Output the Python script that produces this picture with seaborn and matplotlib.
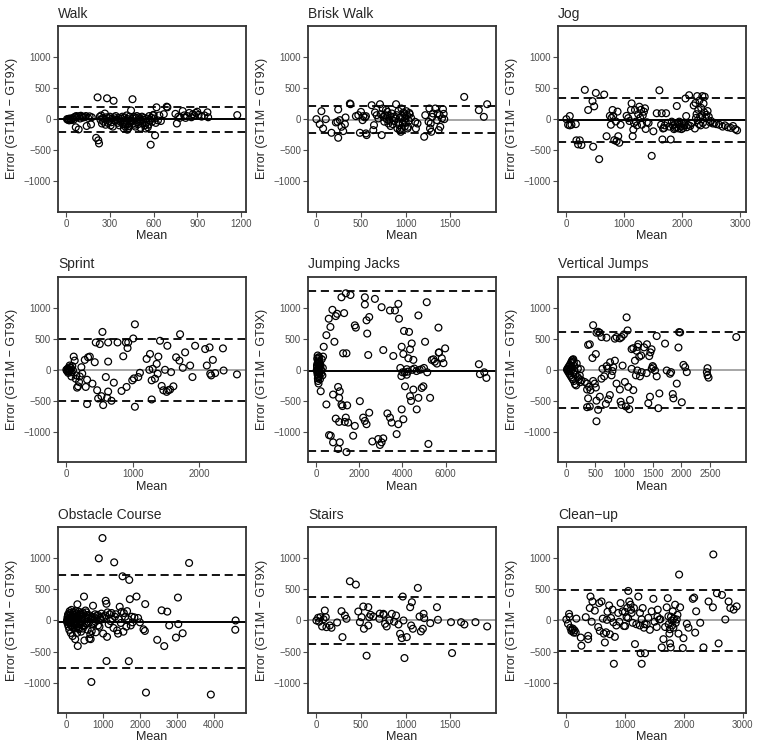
import matplotlib
matplotlib.use("Agg")
import matplotlib.pyplot as plt
import seaborn as sns
import pandas as pd

# Bland-Altman style panels: (mean of the two monitors, GT1M - GT9X)
titles = ["Walk", "Brisk Walk", "Jog", "Sprint", "Jumping Jacks", "Vertical Jumps",
          "Obstacle Course", "Stairs", "Clean\u2212up"]

walk_pts = [
    (5, 0), (10, -10), (15, 5), (20, -20), (25, 10), (30, -5), (35, -15), (40, 0), (45, 20), (50, -10),
    (60, 40), (65, -130), (70, 50), (75, 30), (85, -165), (90, 45), (95, 10), (100, 55), (110, 40), (115, 25),
    (125, 35), (135, 50), (140, -110), (150, 20), (160, 45), (170, -85), (175, 30),
    (205, -300), (215, 350), (220, -340), (225, -390), (230, 40), (235, -10), (240, 60), (245, -70), (250, 20),
    (255, -40), (260, 10), (265, 90), (270, -90), (275, 30), (280, 335), (285, -60), (290, 20), (295, -30),
    (300, 40), (305, -100), (310, -50), (315, 10), (320, -120), (325, 295), (330, 30), (335, -20), (340, 50),
    (350, -10), (360, 20), (370, -40), (380, 10), (390, -80), (395, -150), (400, 30), (405, -120), (410, -30),
    (415, 60), (420, -170), (425, 0), (430, -110), (435, 40), (440, -60), (445, 140), (450, -20), (455, 320),
    (460, 10), (470, -90), (480, 20), (490, -50), (500, 30), (510, -140), (520, 40), (530, -10), (540, -100),
    (550, -60), (560, -130), (570, 50), (580, -410), (585, 20), (590, -40), (600, 70), (610, -260), (620, 190),
    (630, -20), (640, 60), (650, -30), (670, 80), (690, 200), (695, 190),
    (355, -60), (365, -100), (375, -20), (385, 40), (398, -60), (418, -80), (428, -140), (438, -20), (458, -70),
    (465, 40), (475, -120), (485, 50), (495, -80), (505, 0), (515, -30), (525, -70), (535, 20), (545, -150),
    (555, 10), (565, -90), (575, -20), (595, 60), (605, 10), (615, -60),
    (750, 85), (760, -70), (770, 40), (780, 20), (800, 130), (810, 60), (820, 20), (830, 50), (845, 100),
    (860, 30), (870, 80), (880, 60), (890, 100), (900, 120), (910, 70), (930, 40), (950, 60), (970, 110),
    (975, 30), (1175, 65),
]

brisk_pts = [
    (0, 0), (37, -80), (56, 128), (75, -150), (105, 0), (169, -219), (218, -53), (236, -43), (244, -299),
    (244, 155), (262, -16), (281, -123), (300, -192), (319, -80), (326, 27), (375, 251), (382, 240),
    (442, 48), (469, 64), (487, -219), (499, 117), (517, -16), (525, 48), (544, 27), (555, -229), (562, -256),
    (555, 48), (619, 224), (637, -176), (645, -96), (656, 107), (675, 64), (694, 11), (712, 240), (720, 80),
    (731, -256), (742, 171), (750, 37), (769, 64), (787, 0), (795, 117), (806, -70), (817, -27), (825, 48),
    (844, 91), (855, -80), (862, 37), (880, 11), (892, 240), (900, 64), (907, -150), (919, 133), (927, -96),
    (934, -176), (945, -203), (952, 171), (960, 48), (967, -70), (975, 107), (982, -27), (990, -117),
    (997, 11), (1007, 128), (1015, 64), (1026, -123), (1035, -27), (1045, 80), (1060, 20),
    (760, -40), (780, 150), (800, 60), (830, -110), (870, -30), (915, -60), (940, 30), (955, -140),
    (985, 80), (1000, -60), (1020, -150), (1040, 100),
    (1106, -43), (1114, -150), (1132, -70), (1207, -283), (1219, 64), (1256, -43), (1265, 171), (1272, -150),
    (1280, -70), (1287, -203), (1297, 37), (1305, 91), (1331, 171), (1350, -16), (1357, 91), (1369, -176),
    (1380, 64), (1387, -123), (1406, 11), (1417, 160), (1425, 85), (1432, 0),
    (1655, 357), (1819, 144), (1875, 37), (1912, 240),
]

jog_pts = [
    (0, 0), (29, -90), (58, 50), (58, -100), (87, -90), (162, -80), (173, -340), (202, -405), (231, -340),
    (260, -415), (318, 470), (376, 147), (451, 289), (462, -442), (480, 205), (509, 421), (566, -642),
    (653, 395), (694, -274), (751, 53), (769, -90), (780, 20), (798, 147), (809, 53), (827, -337), (855, -37),
    (867, -353), (884, 121), (896, -274), (913, -379), (936, -90),
    (1040, 53), (1069, 16), (1090, -30), (1116, 147), (1127, 253), (1145, -274), (1156, -168), (1168, -63),
    (1185, 147), (1200, -40), (1220, -100), (1240, 80), (1260, 200), (1275, 20), (1290, 150), (1305, -90),
    (1320, 60), (1340, 120), (1358, 174), (1370, -158), (1390, -50), (1420, -60), (1474, -589), (1503, -195),
    (1561, 95), (1607, 463), (1636, -90), (1647, 95), (1659, -326), (1670, -150), (1688, -142), (1700, -100),
    (1723, 95), (1750, -60), (1780, -120), (1803, -326), (1820, -40), (1840, -100), (1860, -160),
    (1880, -80), (1900, -130), (1908, 211), (1920, -60), (1940, -150), (1960, -90), (1980, -120),
    (2000, -70), (2020, -140), (2040, -100), (2058, 332), (2070, 50), (2080, -130), (2100, -90),
    (2121, 384), (2140, -110), (2160, -60), (1950, -40), (1990, -160), (2030, -60), (1870, -140),
    (2200, 220), (2220, -150), (2230, 260), (2240, 20), (2250, 80), (2260, 370), (2270, -20), (2280, 150),
    (2290, -80), (2300, 300), (2310, 40), (2320, -100), (2330, 180), (2340, 60), (2350, 370), (2360, -60),
    (2370, 250), (2380, 110), (2390, 360), (2400, 20), (2410, -90), (2420, 70), (2440, 130), (2460, 40),
    (2480, -50), (2500, -30), (2530, -70), (2560, -60), (2590, -80), (2640, -90), (2700, -120),
    (2740, -100), (2790, -130), (2840, -140), (2880, -110), (2920, -160), (2950, -180),
]

sprint_pts = [
    (0, 0), (10, -20), (20, 20), (30, -30), (40, 10), (50, 40), (60, -10), (70, 30), (80, -40), (90, 60),
    (100, -10), (30, -50), (20, 10), (40, -20), (50, 69), (76, -106), (111, 212), (126, 148), (151, -90),
    (141, -143), (162, -286), (177, -265), (192, -196), (202, -106), (227, 42), (240, -60),
    (278, 159), (293, -275), (313, -159), (328, 201), (313, -550), (354, 212), (394, -222), (429, 122),
    (444, 439), (465, -328), (480, -460), (505, 413), (530, -423), (545, 608), (556, -566), (596, -116),
    (616, -450), (631, -349), (631, 132), (631, 439), (682, -497), (717, -206), (773, 439), (833, -339),
    (859, 217), (899, 439), (909, -275), (924, 349), (934, 439), (995, -169), (1010, 503), (1020, -138),
    (1035, -593), (1035, 730), (1086, -116), (1111, -48),
    (1212, 175), (1253, 0), (1263, 254), (1288, -169), (1288, -476), (1303, 16), (1338, -143), (1364, 95),
    (1379, -63), (1389, 212), (1414, 466), (1439, -259), (1465, -328), (1490, 0), (1515, -354),
    (1540, -328), (1525, 386), (1566, -317), (1581, -37), (1616, -265), (1657, 201), (1707, 148),
    (1717, 571), (1758, 32), (1793, 280), (1869, 69), (1904, -116), (1944, 386), (2096, 333), (2121, 69),
    (2162, 360), (2172, -63), (2187, -90), (2212, 159), (2247, -53), (2364, 344), (2374, -11), (2576, -74),
]

jacks_pts = [
    (20, 0), (30, 50), (40, -40), (50, 100), (60, -80), (70, 150), (80, -20), (90, 200), (100, 30),
    (110, -120), (40, 180), (60, 230), (80, -180), (100, -220), (120, 60), (130, -60), (150, 120),
    (160, -30), (180, 90), (200, 10), (220, -60), (250, 170), (280, -90), (300, 30), (70, -140), (90, 120),
    (50, -10), (30, 70), (120, -100), (140, 200), (170, -150), (190, 60), (202, -344), (230, -10),
    (311, 212), (342, 370),
    (466, 556), (575, 820), (653, 688), (746, 963), (839, 450), (901, 862), (964, 899), (1166, 1164),
    (1243, 265), (1290, 910), (1399, 265), (1368, 1228), (1585, 1201), (1787, 714), (1834, 677),
    (2253, 1164), (2253, 1048), (2331, 794), (2362, 582), (2409, 238), (2455, 847), (2719, 1138),
    (3030, 1005), (3108, 317), (3419, 952), (3652, 952), (3574, 222), (3807, 1058), (3838, 820),
    (3963, 370), (4041, 254), (4072, 624), (4274, 185), (4305, 608), (4352, 328), (4429, 423),
    (4506, 159), (4739, 873), (5050, 450), (5128, 1085), (5439, 169), (5672, 677), (5827, 185),
    (5905, 106), (5983, 344), (5361, 159), (5687, 275), (5700, 280),
    (466, -556), (590, -1048), (668, -1058), (777, -397), (901, -783), (1010, -275), (1057, -450),
    (1057, -836), (1088, -344), (1166, -556), (1212, -582), (1321, -836), (1368, -767), (1430, -571),
    (1476, -847), (777, -1164), (1088, -1164), (1010, -1270), (1399, -1320), (1710, -1058), (1787, -900),
    (2020, -503), (2175, -767), (2253, -820), (2331, -873), (2455, -688), (2875, -1111), (2953, -1206),
    (3030, -1164), (3108, -1100), (3419, -767), (3497, -847), (3730, -1032), (3807, -873), (3963, -635),
    (4041, -794), (4118, -265), (4196, -79), (4352, -423), (4506, -317), (4662, -635), (4739, -450),
    (4895, -291), (4972, -265), (5205, -1190), (5283, -450), (2600, -1150), (3300, -700), (4400, -500),
    (3900, 30), (3950, -100), (4000, -40), (4100, -40), (4200, 10), (4250, -30), (4450, 0),
    (4550, 20), (4650, -20), (4800, 0), (4900, 10), (5000, 30), (5150, -40), (5500, 130), (5600, 100),
    (7550, 90), (7600, -70), (7800, -40), (7900, -130),
]

vjump_pts = [
    (10, 0), (20, 20), (30, -30), (40, 50), (50, -60), (60, 80), (70, -90), (80, 110), (90, -120),
    (100, 150), (110, -150), (120, 170), (130, -180), (60, 10), (80, -20), (100, 40), (120, -50),
    (140, 60), (160, -80), (180, 100), (200, -120), (220, -150), (240, -200), (90, 130), (110, 160),
    (70, 30), (50, -20), (150, -230), (170, -250), (130, 120), (200, 20), (250, 10), (30, 10), (140, -10),
    (233, -89), (262, -168), (320, -195), (360, -221), (395, -274), (419, -326), (360, -316), (378, -458),
    (407, -589), (360, -600), (465, -179), (494, -221), (512, -284), (523, -495), (552, -642), (523, -826),
    (581, -432), (610, -142), (628, 16), (657, -105), (686, -547), (727, -474), (756, -405), (785, -89),
    (814, 42), (843, 147), (872, -221), (930, -316), (942, -511), (959, -563), (977, 68), (1017, -195),
    (1035, -589), (1076, -274), (1093, -632), (1105, -484), (1134, 16), (1163, -326), (1192, 147),
    (1209, -89), (1233, -11), (1279, -105), (1308, -37), (1395, -53), (1424, -537), (1453, -432),
    (1483, 16), (1541, -11), (1570, -105), (1599, -616), (1616, -379), (1715, 421), (1744, -11),
    (1802, -63), (1820, -37), (1849, -389), (1860, -458), (1919, -221), (1948, 358), (1959, 605),
    (1977, 600), (2006, -521), (2035, 79), (2064, 42), (2093, -37),
    (465, 716), (523, 595), (378, 400), (407, 410), (453, 189), (512, 253), (552, 611), (581, 595),
    (610, 526), (698, 516), (843, 500), (872, 526), (930, 505), (959, 526), (1047, 842), (1000, 568),
    (1064, 632), (1134, 332), (1163, 347), (1221, 305), (1238, 368), (1250, 411), (1267, 211), (1570, 542),
    (700, 60), (720, 20), (760, 120), (800, -20), (1300, 230), (1350, 360), (1400, 410), (1440, 220),
    (1460, 280), (1480, 330), (1500, 60), (1510, 40), (2442, -37), (2453, -89), (2471, -126),
    (2453, 26), (2953, 526),
]

obstacle_pts = [
    (15, -20), (20, 0), (30, 50), (35, 20), (40, -60), (45, 80), (50, 100), (60, -100), (65, -30), (70, 30),
    (80, -150), (85, 40), (90, 150), (100, -30), (105, 120), (110, 80), (120, -200), (125, -80), (130, 20),
    (140, 170), (145, -10), (150, -90), (160, 60), (165, 30), (170, -250), (180, 120), (185, -120),
    (190, -40), (200, 10), (205, 60), (210, 90), (220, -130), (225, 130), (230, 50), (240, -300),
    (245, -70), (250, 150), (260, -60), (265, 40), (270, -10), (280, 100), (285, -110), (290, -200),
    (300, 260), (305, 70), (310, -410), (320, 40), (325, 10), (330, -120), (340, 140), (345, -140),
    (350, -60), (360, 70), (365, 90), (370, -30), (380, 110), (385, -60), (400, -180), (405, 30),
    (420, 60), (425, -10), (440, 130), (445, -130), (460, -90), (465, 100), (480, 384), (490, -321),
    (500, 20), (505, -80), (520, 160), (525, 60), (540, -50), (545, 130), (560, 90), (565, -20),
    (580, -150), (585, 50), (600, 30), (605, -40), (626, -289), (640, 80), (650, -220), (660, -300),
    (680, -987), (690, -170), (700, 60), (710, 20), (725, 237), (730, -60), (750, -40), (760, 50),
    (780, 100), (790, -20), (800, -190), (820, 20), (830, 70), (850, 90), (860, -80), (882, 997),
    (900, -100), (920, 40), (940, 10), (950, 110), (970, 60), (982, 1323), (1000, -210), (1020, 50),
    (1050, 80), (1070, 316), (1090, 268), (1091, -651), (1106, -263), (1120, 130), (1150, -60),
    (1180, 100), (1200, -10), (1230, 120), (1250, 30), (1280, -120), (1300, 933), (1320, 60),
    (1350, 100), (1380, -160), (1406, -211), (1420, 20), (1450, 220), (1480, -40), (1500, 140),
    (1527, 709), (1550, -180), (1562, 120), (1600, 60), (1630, -100), (1650, 150), (1680, 20),
    (1698, -653), (1709, 651), (1725, 342), (1750, -80), (1780, 60), (1800, -30), (1850, 50),
    (1907, 384), (1950, 40), (2000, -30), (2097, -142), (2134, -168), (2143, 263), (2164, -1157),
    (2470, -311), (2589, 163), (2660, -411), (2743, 142), (2796, -79), (2979, -274), (3033, 368),
    (3042, -58), (3161, -205), (3336, 923), (3927, -1189), (4591, -149), (4600, 0),
]

stairs_pts = [
    (0, 0), (19, 43), (30, -20), (45, 53), (64, -96), (80, 20), (94, 160), (105, 53), (112, -107),
    (150, -80), (169, -117), (232, -32), (281, 149), (292, -267), (319, 80), (337, 27), (375, 629),
    (442, 576), (469, 144), (487, -27), (506, 53), (525, 224), (532, -133), (562, -565), (581, 213),
    (581, -80), (592, 53), (607, 91), (637, 64), (705, 27), (710, 110), (750, 107), (755, 90), (769, -53),
    (787, -96), (817, 0), (844, 107), (870, -20), (892, 80), (919, -64), (937, -213), (956, -283),
    (967, 384), (975, 0), (986, -603), (1012, -267), (1050, 213), (1069, 293), (1061, -80), (1080, -133),
    (1136, 523), (1155, 64), (1170, -176), (1192, -133), (1200, 107), (1207, 37), (1275, -43), (1350, 213),
    (1361, 11), (1507, -27), (1519, -523), (1620, -27), (1657, -64), (1781, -27), (1912, -96),
]

cleanup_pts = [
    (0, 16), (28, -53), (46, 105), (55, 60), (68, -116), (85, -168), (100, -150), (110, -130), (125, -195),
    (140, -160), (159, -195), (170, 30), (245, -274), (256, -405), (330, 53), (370, -247), (370, -300),
    (398, 200), (410, 384), (430, -20), (444, 305), (484, 158), (541, -105), (558, 279), (569, -168),
    (598, 305), (620, 30), (637, -211), (655, -353), (675, -190), (690, 10), (700, 140), (728, 242),
    (740, -221), (760, 40), (785, 174), (808, -695), (825, -263), (850, -80), (882, 121), (900, -20),
    (922, 279), (956, 147), (979, -89), (996, 137), (1024, 53), (1036, 200), (1053, 474), (1070, 305),
    (1093, 253), (1110, 121), (1127, -37), (1150, 200), (1167, -379), (1190, -60), (1224, 384),
    (1252, 121), (1263, -526), (1281, -695), (1298, 200), (1320, -116), (1338, -526), (1366, -63),
    (1394, 42), (1420, -150), (1451, 147), (1480, 347), (1500, -20), (1537, -105), (1554, 174),
    (1582, 16), (1622, -432), (1651, -300), (1679, -105), (1707, 211), (1725, 358), (1736, 68),
    (1753, -211), (1764, -368), (1776, -432), (1793, 0), (1810, 147), (1821, -116), (1850, 253),
    (1878, 16), (1907, -211), (1918, 737), (1935, 211), (1981, -442), (1992, -284), (2049, -53),
    (2077, -116), (2151, 347), (2174, 368), (2191, -195), (2208, 147), (2277, -37), (2333, -432),
    (2419, 305), (2493, 211), (2500, 1060), (2561, 437), (2590, -368), (2647, 410), (2704, 16),
    (2760, 305), (2789, 200), (2846, 174), (2897, 226),
    (1740, -60), (1760, -140), (1780, 60), (1800, -80), (1830, 30), (1860, -40), (1890, 90), (1250, -80),
    (1280, 20), (1330, -60), (1550, 60), (1600, 20), (1050, 40), (1000, -90), (1100, 170), (800, -30),
]

panel_pts = [walk_pts, brisk_pts, jog_pts, sprint_pts, jacks_pts, vjump_pts,
             obstacle_pts, stairs_pts, cleanup_pts]

# mean difference and 95% limits of agreement
bias = [-5, -8, -16, 0, -25, 0, -18, 10, 5]
upper_loa = [196, 213, 342, 500, 1265, 605, 732, 375, 490]
lower_loa = [-210, -219, -374, -503, -1310, -612, -768, -375, -490]
bias_color = ["black", "#a6a6a6", "black", "#a6a6a6", "black", "#a6a6a6", "black", "#a6a6a6", "#a6a6a6"]

x_limits = [(-57, 1235), (-94, 2011), (-145, 3104), (-126, 2712), (-388, 8345),
            (-145, 3122), (-227, 4882), (-94, 2011), (-142, 3056)]
x_ticks = [[0, 300, 600, 900, 1200], [0, 500, 1000, 1500], [0, 1000, 2000, 3000],
           [0, 1000, 2000], [0, 2000, 4000, 6000], [0, 500, 1000, 1500, 2000, 2500],
           [0, 1000, 2000, 3000, 4000], [0, 500, 1000, 1500], [0, 1000, 2000, 3000]]

sns.set_theme(style="ticks")
plt.rcParams["font.family"] = ["Liberation Sans", "DejaVu Sans"]

fig, axes = plt.subplots(3, 3, figsize=(7.57, 7.48), dpi=100)
fig.subplots_adjust(left=58 / 757, right=746 / 757, top=1 - 26 / 748, bottom=1 - 713 / 748,
                    wspace=0.33, hspace=0.35)

for i, ax in enumerate(axes.flat):
    df = pd.DataFrame(panel_pts[i], columns=["mean", "diff"])
    ax.axhline(upper_loa[i], color="black", lw=1.3, ls=(0, (4.5, 2.6)), zorder=1)
    ax.axhline(lower_loa[i], color="black", lw=1.3, ls=(0, (4.5, 2.6)), zorder=1)
    ax.axhline(bias[i], color=bias_color[i], lw=1.4, zorder=1)
    sns.scatterplot(data=df, x="mean", y="diff", ax=ax, color="black", s=24,
                    linewidth=0.9, zorder=2, legend=False)
    ax.collections[-1].set_facecolor("none")
    ax.collections[-1].set_edgecolor("black")

    ax.set_xlim(*x_limits[i])
    ax.set_ylim(-1485, 1495)
    ax.set_xticks(x_ticks[i])
    ax.set_yticks([-1000, -500, 0, 500, 1000])
    ax.set_title(titles[i], loc="left", fontsize=10, pad=6)
    ax.set_xlabel("Mean", fontsize=9, labelpad=1)
    ax.set_ylabel("Error (GT1M \u2212 GT9X)", fontsize=9, labelpad=4)
    ax.tick_params(axis="both", labelsize=7, colors="#4d4d4d", length=3.5, width=0.8, pad=1.5)
    for sp in ax.spines.values():
        sp.set_color("#333333")
        sp.set_linewidth(1.3)

fig.savefig("out.png", dpi=100)
